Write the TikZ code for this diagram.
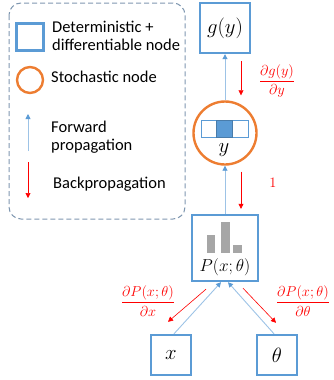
\documentclass[tikz,border=0pt]{standalone}
\usepackage{amsmath}
\usepackage{fontspec}
\setmainfont{Carlito}
\usepackage{tikz}
\usetikzlibrary{arrows.meta}
\definecolor{boxblue}{HTML}{5B9BD5}
\definecolor{lineblue}{HTML}{9DC3E6}
\definecolor{nodeorange}{HTML}{ED7D31}
\definecolor{legendgray}{HTML}{7F97B0}
\definecolor{bargray}{HTML}{A6A6A6}
\tikzset{
detbox/.style={draw=boxblue, line width=2.4pt, minimum size=#1, inner sep=0pt},
stochnode/.style={draw=nodeorange, line width=2.4pt, circle, minimum size=#1, inner sep=0pt},
fwd/.style={draw=lineblue, line width=0.9pt, -{Triangle[length=5pt,width=5pt,color=boxblue]}},
back/.style={draw=red, line width=0.6pt, -{Triangle[length=5pt,width=5pt]}},
grad/.style={text=red, font=\fontsize{15}{16}\selectfont},
legtext/.style={anchor=west, align=left, font=\fontsize{16.5}{18}\selectfont, inner sep=0pt},
}
\newcommand{\bigmath}{\fontsize{21}{24}\selectfont}

\begin{document}
\begin{tikzpicture}[x=1pt, y=-1pt]
\useasboundingbox (0,0) rectangle (333,380);
% legend
\draw[legendgray, line width=1pt, dash pattern=on 5pt off 3pt, rounded corners=12pt]
  (9,3) rectangle (185,219);
\node[detbox=27pt] at (30,37) (lsq) {};
\node[legtext] at (52,36) (lsqtext) {Deterministic +\\differentiable node};
\node[stochnode=26pt] at (30,80) (lcirc) {};
\node[legtext] at (51,77) (lcirctext) {Stochastic node};
\coordinate (lfs) at (28,151);
\coordinate (lft) at (28,114);
\draw[fwd] (lfs) -- (lft);
\node[legtext] at (51,137) (lfwdtext) {Forward\\propagation};
\coordinate (lbs) at (28,162);
\coordinate (lbt) at (28,198);
\draw[back] (lbs) -- (lbt);
\node[legtext] at (53,184) (lbacktext) {Backpropagation};
% graph
\node[detbox=50pt] at (225,28)  (gy) {\bigmath$g(y)$};
\node[stochnode=63pt] at (225,133) (y) {};
\node[detbox=66pt] at (225,248) (p) {};
\node[detbox=40pt] at (171,355) (x) {\bigmath$x$};
\node[detbox=40pt] at (277,355) (th) {\bigmath$\theta$};
% inside y
\draw[boxblue, line width=0.8pt] (201,120) rectangle (248,137);
\draw[boxblue!80!black, fill=boxblue, line width=0.6pt] (216,120) rectangle (232,137);
\node at (224,150) (ylab) {\bigmath$y$};
% inside P
\fill[bargray] (207,235) rectangle (215,253);
\fill[bargray] (221,222) rectangle (230,253);
\fill[bargray] (233,245) rectangle (242,253);
\node at (225,267) (plab) {\fontsize{17}{20}\selectfont$P(x;\theta)$};
% forward
\draw[fwd] (y.north) -- (gy.south);
\draw[fwd] (p.north) -- (y.south);
\draw[fwd] ([xshift=3pt]x.north) -- ([xshift=-4pt]p.south);
\draw[fwd] ([xshift=-3pt]th.north) -- ([xshift=3pt]p.south);
% backward
\draw[back] ([xshift=16pt,yshift=-7pt]gy.south) -- ([xshift=16pt,yshift=5pt]y.north);
\node[grad] at (277,81) (dg) {$\dfrac{\partial g(y)}{\partial y}$};
\draw[back] ([xshift=16pt,yshift=-6pt]y.south) -- ([xshift=16pt,yshift=5pt]p.north);
\node[grad] at (273,183) (one) {$1$};
\draw[back] ([xshift=-19pt,yshift=-7pt]p.south) -- ([xshift=-3pt,yshift=12pt]x.north);
\node[grad] at (148,301) (dpx) {$\dfrac{\partial P(x;\theta)}{\partial x}$};
\draw[back] ([xshift=18pt,yshift=-6pt]p.south) -- ([xshift=-1pt,yshift=11pt]th.north);
\node[grad] at (303,301) (dpth) {$\dfrac{\partial P(x;\theta)}{\partial \theta}$};
\end{tikzpicture}
\end{document}
